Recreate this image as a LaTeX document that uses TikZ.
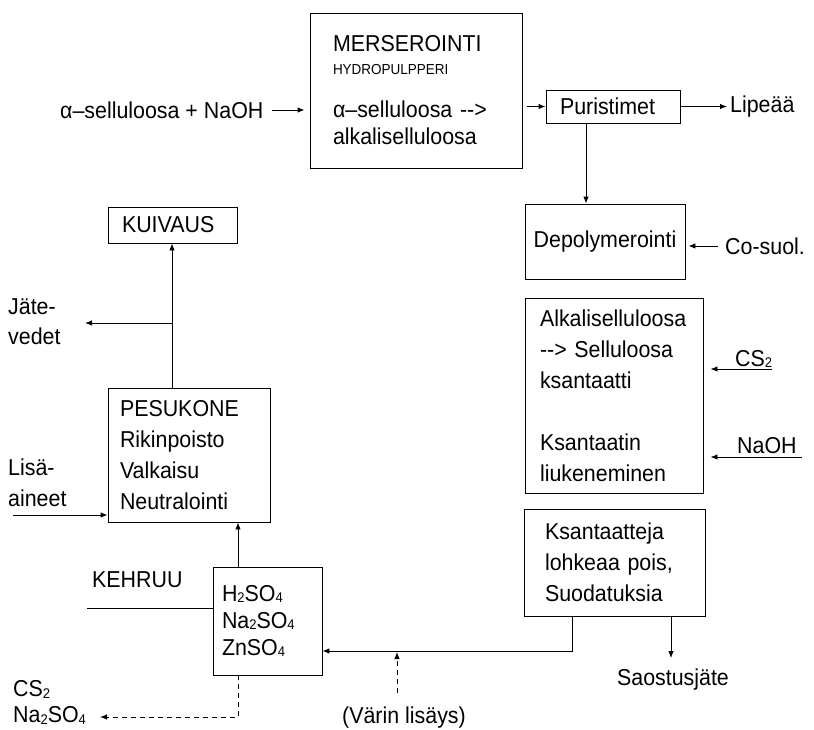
\documentclass[tikz,border=0pt]{standalone}
\usepackage{fontspec}
\setmainfont{Liberation Sans}[FakeStretch=0.93]
\usetikzlibrary{arrows.meta}
\newcommand\fsmain{\fontsize{23}{31}\selectfont}
\newcommand\sbs[1]{\raisebox{-1.5pt}{\fontsize{14}{14}\selectfont #1}}
\begin{document}
\begin{tikzpicture}[x=1pt,y=-1pt,
 box/.style={draw,line width=0.9pt,inner ysep=0pt,align=left,font=\fsmain},
 lbl/.style={inner sep=0pt,font=\fsmain,align=left},
 ln/.style={line width=0.9pt},
 arr/.style={ln,-{Latex[length=7pt,width=5.5pt]}},
 darr/.style={arr,dash pattern=on 5pt off 4pt},
]
\useasboundingbox (0,0) rectangle (814,729);

% boxes
\node[box,text width=166pt,inner xsep=23pt,minimum height=155pt] (mers) at (416,90.5)
 {MERSEROINTI\\[-8pt]{\fontsize{14.5}{15}\selectfont HYDROPULPPERI}\\[12pt]α–selluloosa -{}->\\[-4pt]alkaliselluloosa};
\node[box,text width=106pt,inner xsep=14pt,minimum height=33pt] (pur) at (613,106.5) {Puristimet};
\node[box,align=center,inner sep=0pt,minimum width=160pt,minimum height=75pt] (depol) at (605,241.5) {Depolymerointi};
\node[box,text width=148pt,inner xsep=15pt,minimum height=195pt] (alkali) at (614,395.5)
 {Alkaliselluloosa\\-{}-> Selluloosa\\ksantaatti\\[31pt]Ksantaatin\\liukeneminen};
\node[box,text width=139pt,inner xsep=21pt,minimum height=107pt] (ksant) at (614.5,562.5)
 {Ksantaatteja\\lohkeaa pois,\\Suodatuksia};
\node[box,text width=91pt,inner xsep=9pt,minimum height=108pt,font={\fontsize{23}{27}\selectfont}] (hbox) at (267.5,621)
 {H\sbs{2}SO\sbs{4}\\Na\sbs{2}SO\sbs{4}\\ZnSO\sbs{4}};
\node[box,text width=138pt,inner xsep=12pt,minimum height=134pt] (pesu) at (189,455)
 {PESUKONE\\Rikinpoisto\\Valkaisu\\Neutralointi};
\node[box,text width=101pt,inner xsep=14pt,minimum height=36pt] (kuiv) at (172.5,225) {KUIVAUS};

% labels
\node[lbl,anchor=west] (inA) at (60,110) {α–selluloosa + NaOH};
\node[lbl,anchor=west] (lip) at (730,106.5) {Lipeää};
\node[lbl,anchor=west] (cosuol) at (725,246) {Co-suol.};
\node[lbl,anchor=base west] (cs2r) at (735,366) {CS\sbs{2}};
\node[lbl,anchor=base west] (naohr) at (737,453) {NaOH};
\node[lbl] (saost) at (673,680) {Saostusjäte};
\node[lbl] (varin) at (404,718) {(Värin lisäys)};
\node[lbl,anchor=west] (kehruu) at (92,580) {KEHRUU};
\node[lbl,anchor=west,font={\fontsize{23}{26}\selectfont}] (cs2l) at (13,702.5) {CS\sbs{2}\\Na\sbs{2}SO\sbs{4}};
\node[lbl,anchor=west,font={\fontsize{23}{30}\selectfont}] (jate) at (8,322) {Jäte-\\vedet};
\node[lbl,anchor=west] (lisa) at (8,482.5) {Lisä-\\aineet};

% coordinates
\coordinate (c1) at (772,369);
\coordinate (c2) at (802,457);
\coordinate (j1) at (572,651);
\coordinate (v1) at (397,651);
\coordinate (k1) at (87,608);
\coordinate (d1) at (238,717);
\coordinate (d2) at (100,717);
\coordinate (jb) at (172,323);
\coordinate (jt) at (85,323);
\coordinate (la) at (13,515);

% connectors
\draw[arr,shorten <=8pt,shorten >=5pt] (inA.east) -- (inA.east -| mers.west);
\draw[arr,shorten <=5pt] (mers.east |- pur.west) -- (pur.west);
\draw[arr,shorten >=3pt] (pur.east) -- (lip.west);
\draw[arr] (pur.south -| 586,0) -- (depol.north -| 586,0);
\draw[arr,shorten <=7pt,shorten >=3pt] (cosuol.west) -- (cosuol.west -| depol.east);
\draw[arr,shorten >=7pt] (c1) -- (c1 -| alkali.east);
\draw[arr,shorten >=7pt] (c2) -- (c2 -| alkali.east);
\draw[arr,shorten >=11pt] (ksant.south -| 671,0) -- (saost.north -| 671,0);
\draw[arr] (ksant.south -| j1) -- (j1) -- (j1 -| hbox.east);
\draw[darr,shorten <=14pt,shorten >=1pt] (varin.north -| v1) -- (v1);
\draw[arr] (hbox.north -| 238,0) -- (pesu.south -| 238,0);
\draw[ln] (k1) -- (k1 -| hbox.west);
\draw[darr] (hbox.south -| d1) -- (d1) -- (d2);
\draw[arr] (pesu.north -| 172,0) -- (kuiv.south -| 172,0);
\draw[arr] (jb) -- (jt);
\draw[arr] (la) -- (la -| pesu.west);
\end{tikzpicture}
\end{document}
